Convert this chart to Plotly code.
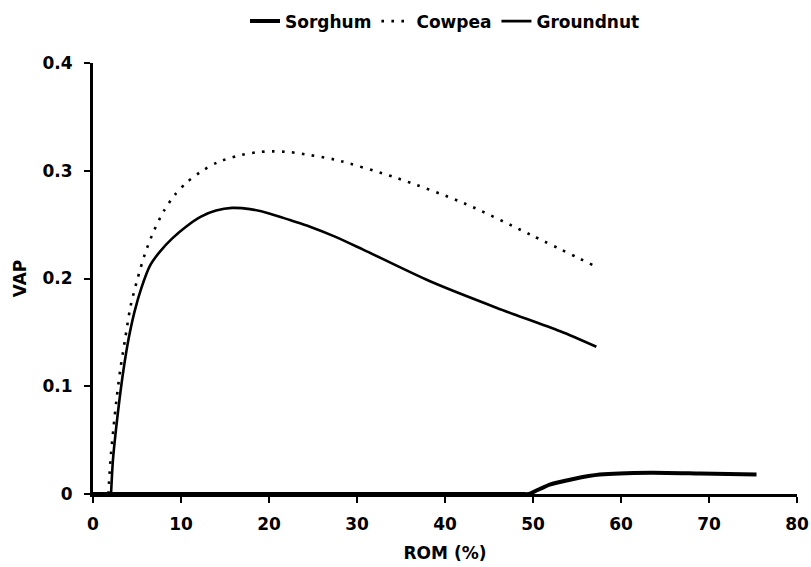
import plotly.graph_objects as go

# ROM (%) vs VAP for three crops
sorghum_rom = [0, 10, 20, 30, 40, 48.8, 49.5, 51.9, 54.6, 57.6, 63.3, 69.0, 75.4]
sorghum_vap = [0, 0, 0, 0, 0, 0, 0, 0.0088, 0.014, 0.018, 0.0197, 0.019, 0.018]

cowpea_rom = [1.74, 1.99, 2.31, 2.67, 3.10, 3.64, 4.26, 5.0, 5.91, 6.93, 8.07, 9.32, 10.68,
              12.27, 14.2, 16.48, 18.75, 20.34, 22.39, 24.66, 27.5, 34.5, 42.1, 49.7, 57.2]
cowpea_vap = [0, 0.032, 0.0598, 0.0877, 0.1155, 0.1433, 0.1739, 0.198, 0.2231, 0.2444, 0.263,
              0.2778, 0.2894, 0.2992, 0.308, 0.314, 0.3173, 0.318, 0.3173, 0.3145, 0.3103,
              0.2933, 0.2701, 0.2407, 0.2108]

groundnut_rom = [2.05, 2.27, 2.61, 3.01, 3.47, 4.03, 4.72, 5.51, 6.48, 7.61, 8.98, 10.57,
                 12.27, 13.98, 15.8, 17.84, 20.11, 22.39, 24.66, 27.5, 30.7, 38.3, 45.9,
                 53.1, 57.2]
groundnut_vap = [0, 0.032, 0.0598, 0.0877, 0.1155, 0.1433, 0.1693, 0.1916, 0.212, 0.225,
                 0.237, 0.2481, 0.2574, 0.263, 0.2655, 0.2644, 0.2602, 0.2542, 0.2481, 0.2389,
                 0.2268, 0.1974, 0.1727, 0.151, 0.1366]

x_ticks = [0, 10, 20, 30, 40, 50, 60, 70, 80]
y_ticks = [0, 0.1, 0.2, 0.3, 0.4]
y_tick_text = ["0", "0.1", "0.2", "0.3", "0.4"]

FONT = "DejaVu Sans"
text_font = dict(family=FONT, size=17, color="black", weight="bold")

fig = go.Figure()
fig.add_trace(go.Scatter(
    x=sorghum_rom, y=sorghum_vap, name="Sorghum", mode="lines",
    line=dict(color="black", width=4, shape="spline", smoothing=0.7),
))
fig.add_trace(go.Scatter(
    x=cowpea_rom, y=cowpea_vap, name="Cowpea", mode="lines",
    line=dict(color="black", width=2.6, dash="2.6px,7.4px", shape="spline", smoothing=0.8),
))
fig.add_trace(go.Scatter(
    x=groundnut_rom, y=groundnut_vap, name="Groundnut", mode="lines",
    line=dict(color="black", width=2.6, shape="spline", smoothing=0.8),
))

fig.update_layout(
    width=811, height=567,
    margin=dict(l=93, r=14, t=63, b=73, autoexpand=False),
    paper_bgcolor="white", plot_bgcolor="white",
    font=text_font,
    legend=dict(
        orientation="h", x=0.5, xanchor="center",
        yref="container", y=0.962, yanchor="middle",
        font=text_font, itemwidth=30, bgcolor="rgba(0,0,0,0)",
    ),
    xaxis=dict(
        range=[0, 80], tickvals=x_ticks, ticktext=[str(v) for v in x_ticks],
        showline=True, linecolor="black", linewidth=3,
        ticks="outside", ticklen=6, tickwidth=2, tickcolor="black",
        ticklabelstandoff=7, automargin=False,
        showgrid=False, zeroline=False, tickfont=text_font,
        title=dict(text="ROM (%)", font=text_font, standoff=14),
    ),
    yaxis=dict(
        range=[0, 0.4], tickvals=y_ticks, ticktext=y_tick_text,
        showline=True, linecolor="black", linewidth=3,
        ticks="outside", ticklen=6, tickwidth=2, tickcolor="black",
        ticklabelstandoff=8, automargin=False,
        showgrid=False, zeroline=False, tickfont=text_font,
        title=dict(text="VAP", font=text_font, standoff=12),
    ),
)

fig.write_html("out.html")
